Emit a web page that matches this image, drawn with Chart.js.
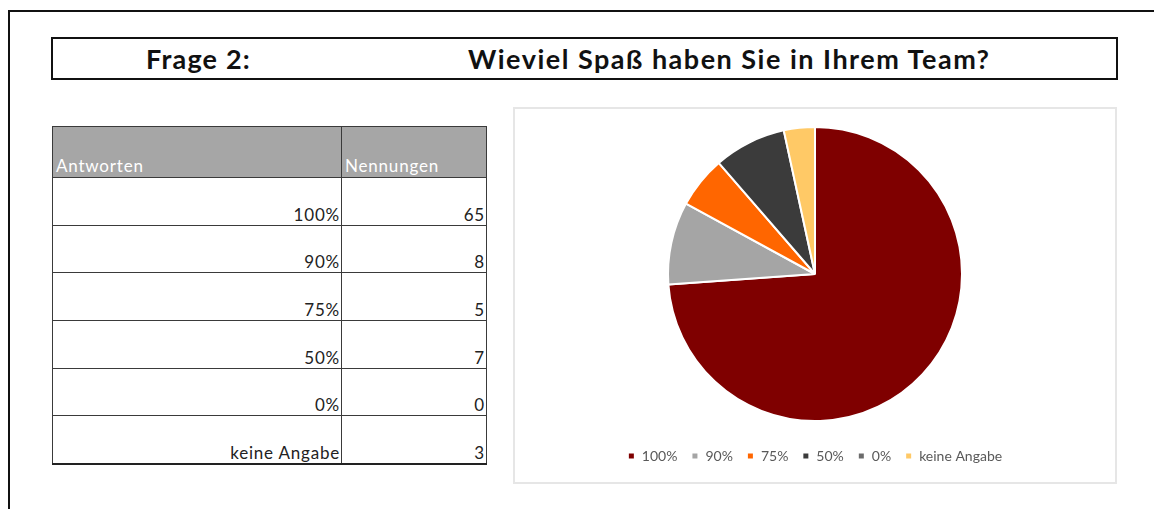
<!DOCTYPE html>
<html>
<head>
<meta charset="utf-8">
<script src="https://cdn.jsdelivr.net/npm/chart.js@4"></script>
<style>
    html, body { margin: 0; padding: 0; background: #fff; }
    body { width: 1154px; height: 509px; position: relative; overflow: hidden; font-family: Lato, "Open Sans", sans-serif; }
    .frame-top { position: absolute; left: 8px; top: 10px; width: 1146px; height: 2px; background: #111; }
    .frame-left { position: absolute; left: 8px; top: 10px; width: 2px; height: 499px; background: #111; }
    .title-box { position: absolute; left: 51px; top: 37px; width: 1067px; height: 43px; box-sizing: border-box; border: 2px solid #111; }
    .title { position: absolute; top: 42px; font-weight: bold; font-size: 27px; letter-spacing: 1.5px; color: #111; white-space: nowrap; }
    #frage { left: 146px; letter-spacing: 1.2px; }
    #question { left: 468px; }
    table.answers { position: absolute; left: 52px; top: 126px; border-collapse: collapse; font-size: 17px; letter-spacing: 0.8px; color: #222; }
    table.answers td, table.answers th { border: 1px solid #3a3a3a; padding: 0 1px 0 2px; vertical-align: bottom; text-align: right; box-sizing: border-box; }
    table.answers th { background: #a6a6a6; color: #fff; font-weight: normal; text-align: left; height: 51px; padding-left: 3px; padding-bottom: 1px; }
    table.answers td { height: 47.7px; }
    table.answers tr:last-child td { border-bottom: 2px solid #222; }
    .chart-box { position: absolute; left: 513px; top: 107px; width: 604px; height: 377px; box-sizing: border-box; border: 2px solid #e6e6e6; }
    .chart-inner { position: absolute; left: 0; top: 0; width: 600px; height: 373px; }
</style>
</head>
<body>
<div class="frame-top"></div>
<div class="frame-left"></div>
<div class="title-box"></div>
<div class="title" id="frage">Frage 2:</div>
<div class="title" id="question">Wieviel Spaß haben Sie in Ihrem Team?</div>

<table class="answers" id="answers">
    <colgroup><col style="width:289px"><col style="width:145px"></colgroup>
</table>

<div class="chart-box">
    <div class="chart-inner"><canvas id="pieFrage2"></canvas></div>
</div>

<script>
// Frage 2 - Antworten / Nennungen
const headers = ['Antworten', 'Nennungen'];
const answers = ['100%', '90%', '75%', '50%', '0%', 'keine Angabe'];
const counts = [65, 8, 5, 7, 0, 3];
const sliceColors = ['#7f0000', '#a5a5a5', '#ff6600', '#3b3b3b', '#6b6b6b', '#ffc966'];

// Tabelle aufbauen
const table = document.getElementById('answers');
let headRow = table.insertRow();
headers.forEach(function (h) {
    let th = document.createElement('th');
    th.textContent = h;
    headRow.appendChild(th);
});
answers.forEach(function (a, i) {
    let row = table.insertRow();
    row.insertCell().textContent = a;
    row.insertCell().textContent = counts[i];
});

// Kreisdiagramm
new Chart(document.getElementById('pieFrage2'), {
    type: 'pie',
    data: {
        labels: answers,
        datasets: [{
            data: counts,
            backgroundColor: sliceColors,
            borderColor: '#ffffff',
            borderWidth: 2,
            radius: 147
        }]
    },
    options: {
        responsive: true,
        maintainAspectRatio: false,
        animation: false,
        layout: {
            padding: { top: 4, bottom: 9 }
        },
        plugins: {
            tooltip: { enabled: false },
            legend: {
                position: 'bottom',
                labels: {
                    boxWidth: 7,
                    boxHeight: 7,
                    padding: 14,
                    color: '#595959',
                    font: { family: 'Lato', size: 14 }
                }
            }
        }
    }
});
</script>
</body>
</html>
